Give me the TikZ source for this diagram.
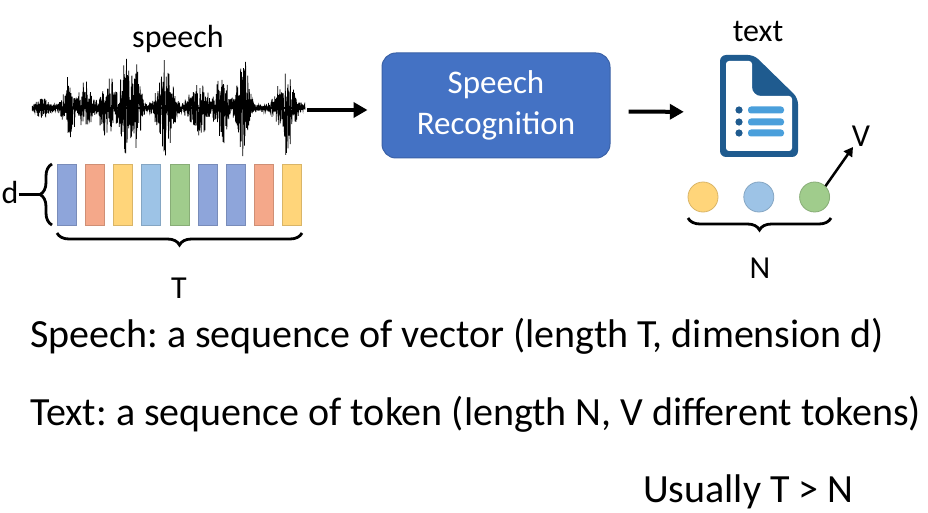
\documentclass[tikz,border=0pt]{standalone}
\usepackage{fontspec}
\setmainfont{Carlito}
\usetikzlibrary{arrows.meta,decorations.pathreplacing,positioning}

\definecolor{asrblue}{HTML}{4472C4}
\definecolor{docblue}{HTML}{1F5B8F}
\definecolor{barblue}{HTML}{4A9FDB}
\definecolor{vblue}{HTML}{8EA5DA}
\definecolor{vorange}{HTML}{F4A88A}
\definecolor{vyellow}{HTML}{FFD57A}
\definecolor{vlight}{HTML}{9DC3E6}
\definecolor{vgreen}{HTML}{A0CC8C}

\begin{document}
\frenchspacing
\begin{tikzpicture}[x=1pt,y=-1pt,
  lbl/.style={font=\fontsize{32}{38}\selectfont, inner sep=0pt, anchor=base},
  big/.style={font=\fontsize{40}{48}\selectfont, inner sep=0pt, anchor=base west},
  fat/.style={line width=4pt, -{Triangle[length=14pt,width=15pt]}},
  thin arrow/.style={line width=2.5pt, -{Triangle[length=9pt,width=10pt]}},
  brc/.style={decorate, decoration={brace, amplitude=12pt}, line width=2.8pt},
  vec/.style={minimum width=19pt, minimum height=61pt, inner sep=0pt,
    draw=#1!85!black, fill=#1, line width=0.6pt},
  tok/.style={circle, minimum size=30pt, inner sep=0pt,
    draw=#1!85!black, fill=#1, line width=0.8pt},
  declare function={burst(\t,\c,\w)=exp(-min(((\t-\c)/\w)^2,9));
    env(\t)=4+10*burst(\t,43,6)+32*burst(\t,70,7)+28*burst(\t,86,6)
      +36*burst(\t,108,8)+56*burst(\t,125,6)+48*burst(\t,137,5)
      +46*burst(\t,165,9)+38*burst(\t,198,9)+42*burst(\t,222,7)
      +56*burst(\t,243,7)+46*burst(\t,285,9);}
]
  \fill[white] (0,0) rectangle (928,513);
  \useasboundingbox (0,0) rectangle (928,513);

  % speech signal
  \pgfmathsetseed{5}
  \draw[line width=2pt] (32,108) -- (305,108);
  \draw[line width=0.75pt] plot[domain=32:305, samples=1600]
    (\x,{108+env(\x)*rand*(0.4+0.6*rnd)});
  \coordinate (wend) at (307,110);
  \node[lbl] (speechlbl) at (178,48) {speech};

  % feature vectors
  \foreach \c [count=\i] in {vblue,vorange,vyellow,vlight,vgreen,vblue,vblue,vorange,vyellow}
    \node[vec=\c] (v\i) at ({66.5+28.2*(\i-1)},194.5) {};
  \draw[brc] (52,225) -- (52,164);
  \node[lbl] (d) at (10,204) {d};
  \coordinate (dtip) at (40,194.5);
  \draw[line width=2.8pt] (d.east |- dtip) -- (dtip);
  \draw[brc] (302,233) -- (57,233);
  \node[lbl] (T) at (179,298) {T};

  % recognizer
  \node[draw=asrblue!85!black, fill=asrblue, line width=1pt, rounded corners=14pt,
    minimum width=228pt, minimum height=105pt, text=white, align=center,
    font=\fontsize{33}{41}\selectfont] (asr) at (496,105.5) {Speech\\Recognition};
  \draw[fat, shorten >=14pt] (wend) -- (asr.west |- wend);

  % text document
  \node[minimum width=78pt, minimum height=102pt, inner sep=0pt] (doc) at (759,106) {};
  \fill[docblue, rounded corners=6pt] (720,157) -- (720,55) -- (754,55)
    -- (798,98) -- (798,157) -- cycle;
  \fill[white, rounded corners=3pt] (726,151) -- (726,61) -- (752,61) -- (752,84)
    .. controls (752,92) and (756,96) .. (764,96) -- (792,96) -- (792,151) -- cycle;
  \foreach \y in {110,122,133} {
    \fill[docblue] (739,\y) circle (3.6pt);
    \fill[barblue, rounded corners=3pt] (748,\y-3.5) rectangle (784,\y+3.5);
  }
  \node[lbl] (textlbl) at (758,42) {text};
  \draw[fat, shorten <=18pt, shorten >=36pt] ([yshift=-6pt]asr.east) -- ([yshift=-6pt]doc.west);

  % tokens
  \node[tok=vyellow] (t1) at (703,197) {};
  \node[tok=vlight, right=25pt of t1] (t2) {};
  \node[tok=vgreen, right=25pt of t2] (t3) {};
  \node[lbl] (V) at (861,147) {V};
  \draw[thin arrow] (t3.45) -- (853,147);
  \draw[brc] (831,218) -- (688,218);
  \node[lbl] (N) at (760,278) {N};

  % description
  \node[big] (l1) at (30,347) {Speech: a sequence of vector (length T, dimension d)};
  \node[big] (l2) at (30,425) {Text: a sequence of token (length N, V different tokens)};
  \node[big] (l3) at (643,502) {Usually T > N};
\end{tikzpicture}
\end{document}
